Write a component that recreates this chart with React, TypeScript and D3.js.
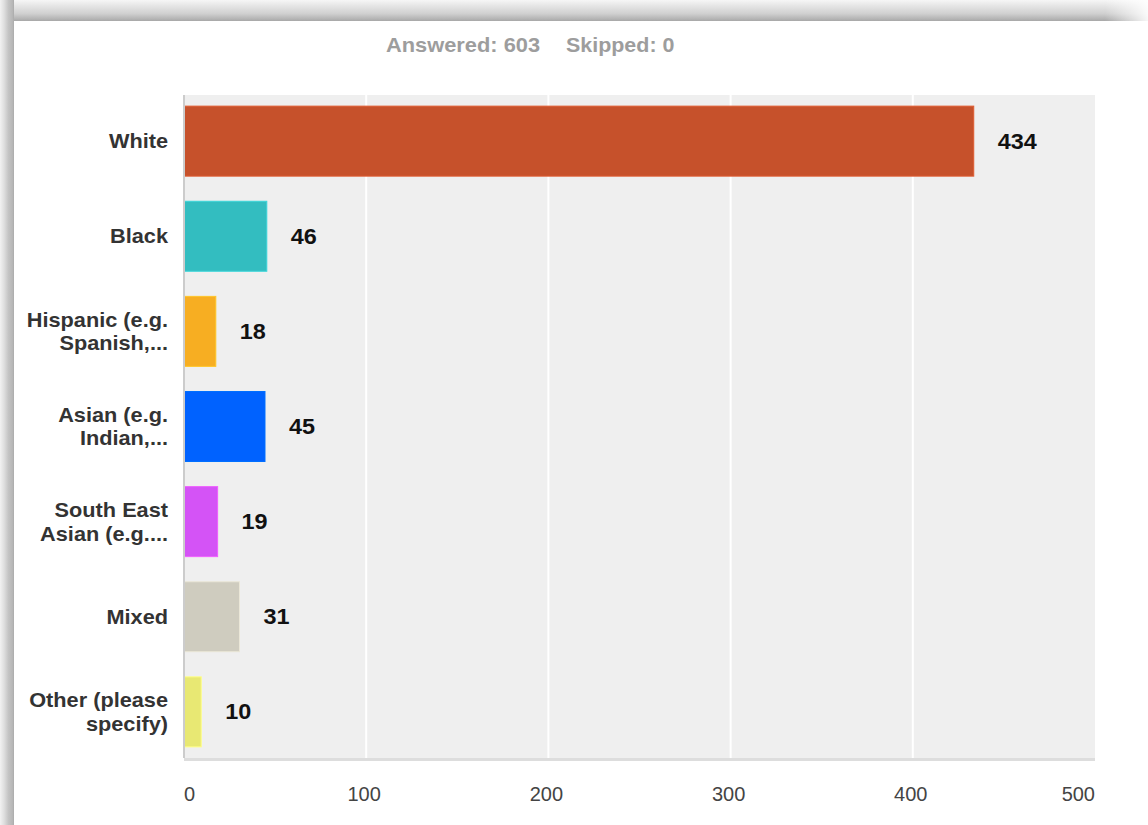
import React from "react";
import * as d3 from "d3";

const categories = ["White", "Black", "Hispanic", "Asian", "South East Asian", "Mixed", "Other"];
const categoryLabels = [
  ["White"],
  ["Black"],
  ["Hispanic (e.g.", "Spanish,..."],
  ["Asian (e.g.", "Indian,..."],
  ["South East", "Asian (e.g...."],
  ["Mixed"],
  ["Other (please", "specify)"],
];
const counts = [434, 46, 18, 45, 19, 31, 10];
const barColors = ["#c6512b", "#33bdc0", "#f7ae22", "#0062ff", "#d453f6", "#cfccbf", "#e8e873"];
const xTicks = [0, 100, 200, 300, 400, 500];
const answered = 603;
const skipped = 0;

const W = 1148;
const H = 825;
const FONT = "'Liberation Sans', Arial, sans-serif";

export default function App() {
  const x = d3.scaleLinear().domain([0, 500]).range([184, 1095]);
  const y = d3
    .scaleBand<string>()
    .domain(categories)
    .range([95, 758])
    .paddingInner(0.264)
    .paddingOuter(0.117);
  const bw = y.bandwidth();
  const [x0, x1] = x.range();
  const [y0, y1] = y.range();

  return (
    <svg
      width={W}
      height={H}
      style={{ position: "absolute", left: 0, top: 0, display: "block", background: "#fff" }}
      fontFamily={FONT}
    >
      <defs>
        <linearGradient id="topG" x1="0" y1="0" x2="0" y2="1">
          <stop offset="0" stopColor="#f6f6f6" />
          <stop offset="0.3" stopColor="#e4e4e4" />
          <stop offset="0.65" stopColor="#d0d0d0" />
          <stop offset="0.9" stopColor="#b4b4b4" />
          <stop offset="1" stopColor="#a8a8a8" />
        </linearGradient>
        <linearGradient id="leftG" x1="0" y1="0" x2="1" y2="0">
          <stop offset="0" stopColor="#f2f2f2" />
          <stop offset="0.3" stopColor="#dedede" />
          <stop offset="0.6" stopColor="#c4c4c4" />
          <stop offset="0.9" stopColor="#b6b6b6" />
          <stop offset="1" stopColor="#aaaaaa" />
        </linearGradient>
        <linearGradient id="fadeR" x1="0" y1="0" x2="1" y2="0">
          <stop offset="0" stopColor="#ffffff" stopOpacity="0" />
          <stop offset="1" stopColor="#ffffff" stopOpacity="0.9" />
        </linearGradient>
      </defs>

      {/* frame shadow */}
      <rect x={0} y={0} width={W} height={21} fill="url(#topG)" />
      <rect x={0} y={0} width={14} height={H} fill="url(#leftG)" />
      <rect x={1105} y={0} width={43} height={21} fill="url(#fadeR)" />

      {/* header */}
      <text transform="translate(386,52) scale(1.12,1)" fontSize={19.5} fontWeight="bold" fill="#9d9d9d">
        {`Answered: ${answered}`}
      </text>
      <text transform="translate(566,52) scale(1.1,1)" fontSize={19.5} fontWeight="bold" fill="#9d9d9d">
        {`Skipped: ${skipped}`}
      </text>

      {/* plot background */}
      <rect x={x0} y={y0} width={x1 - x0} height={y1 - y0} fill="#efefef" />
      {xTicks.slice(1, -1).map((t) => (
        <line key={t} x1={x(t)} x2={x(t)} y1={y0} y2={y1} stroke="#ffffff" strokeWidth={2} />
      ))}

      {/* bars */}
      {categories.map((c, i) => (
        <rect
          key={c}
          x={x(0)}
          y={y(c)}
          width={x(counts[i]) - x(0) - 1}
          height={bw}
          fill={barColors[i]}
          stroke={d3.color(barColors[i])!.brighter(0.35).formatHex()}
          strokeWidth={1}
        />
      ))}

      {/* axes */}
      <line x1={x0} x2={x0} y1={y0} y2={y1} stroke="#cccccc" strokeWidth={2} />
      <rect x={x0} y={y1} width={x1 - x0} height={3} fill="#dddddd" />

      {/* value labels */}
      {categories.map((c, i) => (
        <text
          key={c}
          transform={`translate(${x(counts[i]) + 23},${(y(c) as number) + bw / 2 + 7.5}) scale(1.04,1)`}
          fontSize={22.5}
          fontWeight="bold"
          fill="#111"
        >
          {counts[i]}
        </text>
      ))}

      {/* category labels */}
      {categories.map((c, i) => {
        const lines = categoryLabels[i];
        const cy = (y(c) as number) + bw / 2;
        const lh = 23.5;
        const start = cy + 7.2 - ((lines.length - 1) * lh) / 2;
        return (
          <text
            key={c}
            transform={`translate(168,${start}) scale(1.07,1)`}
            textAnchor="end"
            fontSize={20.3}
            fontWeight="bold"
            fill="#333333"
          >
            {lines.map((l, j) => (
              <tspan key={j} x={0} y={j * lh}>
                {l}
              </tspan>
            ))}
          </text>
        );
      })}

      {/* x tick labels */}
      {xTicks.map((t, i) => (
        <text
          key={t}
          x={i === 0 ? x(t) : i === xTicks.length - 1 ? x(t) : x(t) - 2}
          y={801}
          fontSize={20}
          fill="#444444"
          textAnchor={i === 0 ? "start" : i === xTicks.length - 1 ? "end" : "middle"}
        >
          {t}
        </text>
      ))}
    </svg>
  );
}
